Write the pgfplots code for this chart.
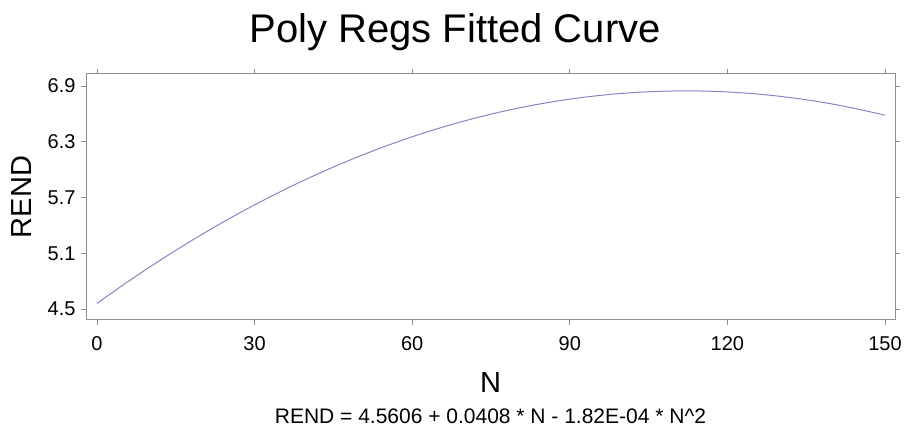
\documentclass[border=0pt]{standalone}
\usepackage{pgfplots}
\pgfplotsset{compat=1.18}
\usepackage{fontspec}
\setmainfont{Liberation Sans}
\definecolor{axgray}{RGB}{150,140,140}
\definecolor{curve}{RGB}{150,125,195}
\begin{document}
\begin{tikzpicture}[x=1pt,y=1pt]
\useasboundingbox (0,0) rectangle (905,427);
\node[anchor=base,font=\fontsize{40}{44}\selectfont] at (455,384) {Poly Regs Fitted Curve};
\begin{axis}[
  at={(86pt,107pt)}, anchor=south west,
  width=809pt, height=246pt, scale only axis,
  xmin=-2.09, xmax=151.9, ymin=4.382, ymax=7.029,
  xtick={0,30,60,90,120,150},
  ytick={4.5,5.1,5.7,6.3,6.9},
  yticklabel style={/pgf/number format/fixed,/pgf/number format/precision=1,/pgf/number format/fixed zerofill, xshift=-2pt},
  xticklabel style={yshift=-8pt},
  /pgf/number format/assume math mode=true,
  tick label style={font=\fontsize{20}{24}\selectfont, text=black},
  tick align=outside, major tick length=5pt,
  axis line style={axgray, line width=1pt},
  every tick/.style={axgray, line width=0.8pt},
  xlabel={N}, ylabel={REND},
  xlabel style={font=\fontsize{29}{32}\selectfont, at={(axis description cs:0.5,-0.254)}, anchor=center},
  ylabel style={font=\fontsize{29}{32}\selectfont, at={(axis description cs:-0.0803,0.5)}, anchor=center, rotate=0},
  clip=false,
]
\addplot[curve, line width=1pt, smooth] coordinates {
(0,4.5606) (5,4.76005) (10,4.9504) (15,5.13165) (20,5.3038) (25,5.46685)
(30,5.6208) (35,5.76565) (40,5.9014) (45,6.02805) (50,6.1456) (55,6.25405)
(60,6.3534) (65,6.44365) (70,6.5248) (75,6.59685) (80,6.6598) (85,6.71365)
(90,6.7584) (95,6.79405) (100,6.8206) (105,6.83805) (110,6.8464) (115,6.84565)
(120,6.8358) (125,6.81685) (130,6.7888) (135,6.75165) (140,6.7054) (145,6.64905)
(150,6.5856)
};
\node[font=\fontsize{21}{24}\selectfont, anchor=center] at (axis description cs:0.5,-0.39) {REND = 4.5606 + 0.0408 * N - 1.82E-04 * N\^{}2};
\end{axis}
\end{tikzpicture}
\end{document}
